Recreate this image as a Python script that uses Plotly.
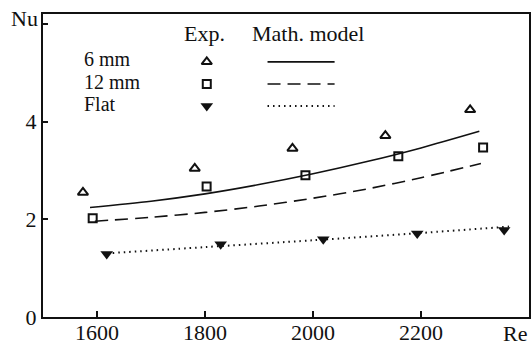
import plotly.graph_objects as go

# ---- data ----
re_6mm = [1574, 1781, 1962, 2134, 2291]
nu_6mm = [2.55, 3.04, 3.45, 3.71, 4.24]
re_12mm = [1592, 1803, 1986, 2158, 2315]
nu_12mm = [2.02, 2.67, 2.90, 3.29, 3.47]
re_flat = [1618, 1829, 2019, 2193, 2354]
nu_flat = [1.29, 1.49, 1.59, 1.71, 1.78]

model_re_6mm = [1587, 1700, 1800, 1900, 2000, 2100, 2200, 2308]
model_nu_6mm = [2.24, 2.37, 2.52, 2.71, 2.93, 3.18, 3.46, 3.80]
model_re_12mm = [1596, 1700, 1800, 1900, 2000, 2100, 2200, 2311]
model_nu_12mm = [1.96, 2.04, 2.14, 2.27, 2.43, 2.62, 2.85, 3.14]
model_re_flat = [1629, 1800, 2000, 2200, 2363]
model_nu_flat = [1.31, 1.43, 1.57, 1.72, 1.85]

x_ticks = [1600, 1800, 2000, 2200]
y_ticks = [0, 2, 4, 6]
y_ticktext = ["0", "2", "4", ""]

FONT = "Liberation Serif"
FS = 22
FS_KEY = 20
BLACK = "#111111"

fig = go.Figure()

# model lines
fig.add_trace(go.Scatter(x=model_re_6mm, y=model_nu_6mm, mode="lines",
                         line=dict(color=BLACK, width=1.6, shape="spline", smoothing=0.8), showlegend=False))
fig.add_trace(go.Scatter(x=model_re_12mm, y=model_nu_12mm, mode="lines",
                         line=dict(color=BLACK, width=1.6, dash="13px,7px", shape="spline", smoothing=0.8), showlegend=False))
fig.add_trace(go.Scatter(x=model_re_flat, y=model_nu_flat, mode="lines",
                         line=dict(color=BLACK, width=2, dash="1.5px,4px", shape="spline", smoothing=0.8), showlegend=False))

# experimental points
fig.add_trace(go.Scatter(x=re_6mm, y=nu_6mm, mode="markers",
                         marker=dict(symbol="triangle-up-open", size=9, color=BLACK,
                                     line=dict(width=2, color=BLACK)), showlegend=False))
fig.add_trace(go.Scatter(x=re_12mm, y=nu_12mm, mode="markers",
                         marker=dict(symbol="square-open", size=8, color=BLACK,
                                     line=dict(width=2, color=BLACK)), showlegend=False))
fig.add_trace(go.Scatter(x=re_flat, y=nu_flat, mode="markers",
                         marker=dict(symbol="triangle-down", size=11, color=BLACK,
                                     line=dict(width=0)), showlegend=False))

# legend keys on an overlay axis (0..1)
key_x = 0.337
key_y = [0.842, 0.769, 0.696]
key_sym = ["triangle-up-open", "square-open", "triangle-down"]
key_size = [9, 8, 11]
for yy, sym, sz in zip(key_y, key_sym, key_size):
    fig.add_trace(go.Scatter(x=[key_x], y=[yy], mode="markers", xaxis="x2", yaxis="y2",
                             marker=dict(symbol=sym, size=sz, color=BLACK,
                                         line=dict(width=2 if "open" in sym else 0, color=BLACK)),
                             showlegend=False))
key_dash = ["solid", "13px,7px", "1.5px,4px"]
for yy, d in zip(key_y, key_dash):
    fig.add_trace(go.Scatter(x=[0.462, 0.600], y=[yy, yy], mode="lines", xaxis="x2", yaxis="y2",
                             line=dict(color=BLACK, width=1.6 if d != "1.5px,4px" else 2, dash=d),
                             showlegend=False))

ann = []
def txt(x, y, t, xanchor="center", yanchor="middle", size=FS):
    ann.append(dict(x=x, y=y, xref="paper", yref="paper", text=t, showarrow=False,
                    xanchor=xanchor, yanchor=yanchor,
                    font=dict(family=FONT, size=size, color=BLACK)))

txt(0.333, 0.937, "Exp.")
txt(0.545, 0.937, "Math. model")
for yy, lab in zip([0.850, 0.776, 0.702], ["6 mm", "12 mm", "Flat"]):
    txt(0.080, yy, lab, xanchor="left", size=FS_KEY)
txt(-0.006, 0.985, "Nu", xanchor="right", yanchor="middle")
txt(1.0, -0.055, "Re", xanchor="right")

fig.update_layout(
    width=531, height=346,
    margin=dict(l=43, r=2, t=14, b=29),
    paper_bgcolor="white", plot_bgcolor="white",
    font=dict(family=FONT, size=FS, color=BLACK),
    annotations=ann,
    xaxis=dict(range=[1500, 2400], tickvals=x_ticks, ticks="inside", ticklen=6,
               tickwidth=2, tickcolor=BLACK, showline=True, linecolor=BLACK, linewidth=2,
               mirror=True, showgrid=False, zeroline=False, automargin=False,
               ticklabelstandoff=-5,
               tickfont=dict(family=FONT, size=FS, color=BLACK)),
    yaxis=dict(range=[0, 6.2], tickvals=y_ticks, ticktext=y_ticktext, ticks="inside",
               ticklen=5, tickwidth=2, tickcolor=BLACK, showline=True, linecolor=BLACK,
               linewidth=2, mirror=True, showgrid=False, zeroline=False, automargin=False,
               tickfont=dict(family=FONT, size=FS, color=BLACK)),
    xaxis2=dict(range=[0, 1], overlaying="x", visible=False),
    yaxis2=dict(range=[0, 1], overlaying="y", visible=False),
)

fig.write_html("out.html")
